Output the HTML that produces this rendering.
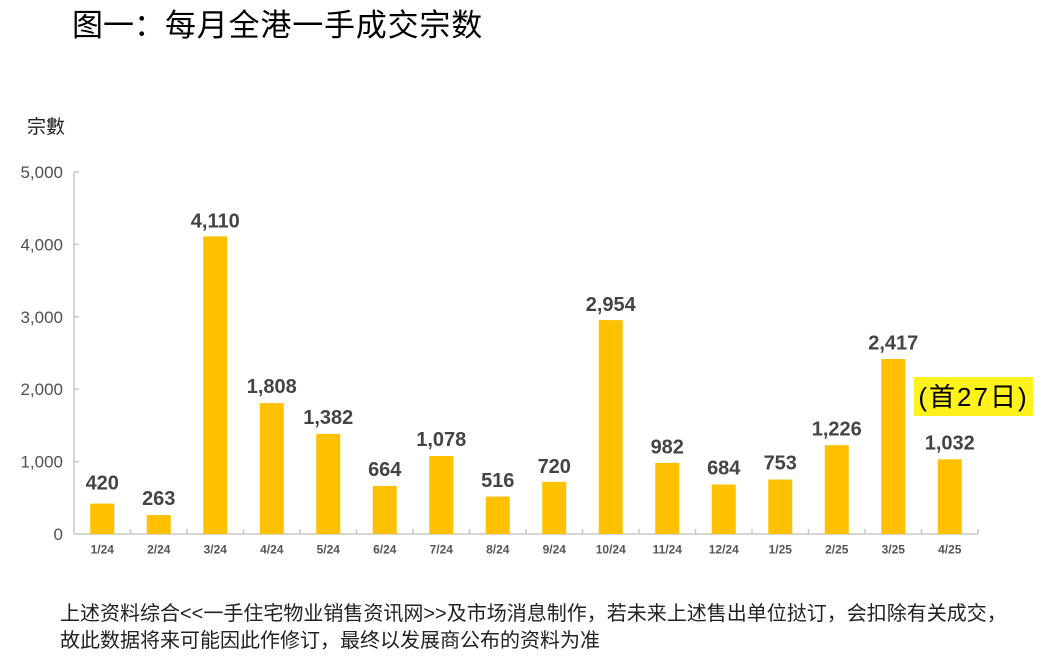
<!DOCTYPE html>
<html>
<head>
<meta charset="utf-8">
<style>
  html,body{margin:0;padding:0;background:#fff;}
  body{width:1051px;height:661px;overflow:hidden;}
  svg{display:block;}
  .cjk{font-family:"Liberation Sans","Noto Sans CJK SC",sans-serif;}
  .num{font-family:"Liberation Sans",sans-serif;}
</style>
</head>
<body>
<svg width="1051" height="661" viewBox="0 0 1051 661" xmlns="http://www.w3.org/2000/svg">
  <rect width="1051" height="661" fill="#fff"/>
  <!-- Title -->
  <text x="72" y="36" class="cjk" font-size="31" fill="#000">图一：</text>
  <text x="165" y="36" class="cjk" font-size="31" fill="#000" letter-spacing="0.8">每月全港一手成交宗数</text>
  <!-- Y unit -->
  <text x="27" y="133" class="cjk" font-size="19" fill="#222">宗數</text>

  <!-- Axes -->
  <line x1="74" y1="172" x2="74" y2="534" stroke="#c8c8c8" stroke-width="1.5"/>
  <line x1="74" y1="534" x2="978" y2="534" stroke="#c8c8c8" stroke-width="1.5"/>
  <g stroke="#c8c8c8" stroke-width="1.5">
    <line x1="74" y1="172" x2="79" y2="172"/>
    <line x1="74" y1="244.4" x2="79" y2="244.4"/>
    <line x1="74" y1="316.8" x2="79" y2="316.8"/>
    <line x1="74" y1="389.2" x2="79" y2="389.2"/>
    <line x1="74" y1="461.6" x2="79" y2="461.6"/>
    <line x1="130.5" y1="529" x2="130.5" y2="534"/>
    <line x1="187" y1="529" x2="187" y2="534"/>
    <line x1="243.5" y1="529" x2="243.5" y2="534"/>
    <line x1="300" y1="529" x2="300" y2="534"/>
    <line x1="356.5" y1="529" x2="356.5" y2="534"/>
    <line x1="413" y1="529" x2="413" y2="534"/>
    <line x1="469.5" y1="529" x2="469.5" y2="534"/>
    <line x1="526" y1="529" x2="526" y2="534"/>
    <line x1="582.5" y1="529" x2="582.5" y2="534"/>
    <line x1="639" y1="529" x2="639" y2="534"/>
    <line x1="695.5" y1="529" x2="695.5" y2="534"/>
    <line x1="752" y1="529" x2="752" y2="534"/>
    <line x1="808.5" y1="529" x2="808.5" y2="534"/>
    <line x1="865" y1="529" x2="865" y2="534"/>
    <line x1="921.5" y1="529" x2="921.5" y2="534"/>
    <line x1="978" y1="529" x2="978" y2="534"/>
  </g>

  <!-- Y labels -->
  <g class="num" font-size="17" fill="#505050" text-anchor="end">
    <text x="63" y="178">5,000</text>
    <text x="63" y="250.4">4,000</text>
    <text x="63" y="322.8">3,000</text>
    <text x="63" y="395.2">2,000</text>
    <text x="63" y="467.6">1,000</text>
    <text x="63" y="540">0</text>
  </g>

  <!-- Bars -->
  <g fill="#FFC000">
    <rect x="90.25" y="503.6" width="24" height="30.4"/>
    <rect x="146.75" y="515.0" width="24" height="19.0"/>
    <rect x="203.25" y="236.4" width="24" height="297.6"/>
    <rect x="259.75" y="403.1" width="24" height="130.9"/>
    <rect x="316.25" y="433.9" width="24" height="100.1"/>
    <rect x="372.75" y="485.9" width="24" height="48.1"/>
    <rect x="429.25" y="456.0" width="24" height="78.0"/>
    <rect x="485.75" y="496.6" width="24" height="37.4"/>
    <rect x="542.25" y="481.9" width="24" height="52.1"/>
    <rect x="598.75" y="320.1" width="24" height="213.9"/>
    <rect x="655.25" y="462.9" width="24" height="71.1"/>
    <rect x="711.75" y="484.5" width="24" height="49.5"/>
    <rect x="768.25" y="479.5" width="24" height="54.5"/>
    <rect x="824.75" y="445.2" width="24" height="88.8"/>
    <rect x="881.25" y="359.0" width="24" height="175.0"/>
    <rect x="937.75" y="459.3" width="24" height="74.7"/>
  </g>

  <!-- Value labels -->
  <g class="num" font-size="20" font-weight="bold" fill="#444" text-anchor="middle">
    <text x="102.25" y="489.5">420</text>
    <text x="158.75" y="505">263</text>
    <text x="215.25" y="227.5">4,110</text>
    <text x="271.75" y="393">1,808</text>
    <text x="328.25" y="424">1,382</text>
    <text x="384.75" y="476">664</text>
    <text x="441.25" y="446">1,078</text>
    <text x="497.75" y="487">516</text>
    <text x="554.25" y="473">720</text>
    <text x="610.75" y="311">2,954</text>
    <text x="667.25" y="453.5">982</text>
    <text x="723.75" y="474.5">684</text>
    <text x="780.25" y="469.5">753</text>
    <text x="836.75" y="435.5">1,226</text>
    <text x="893.25" y="349.5">2,417</text>
    <text x="949.75" y="449.5">1,032</text>
  </g>

  <!-- X labels -->
  <g class="num" font-size="12" font-weight="bold" fill="#555" text-anchor="middle">
    <text x="102.25" y="553.5">1/24</text>
    <text x="158.75" y="553.5">2/24</text>
    <text x="215.25" y="553.5">3/24</text>
    <text x="271.75" y="553.5">4/24</text>
    <text x="328.25" y="553.5">5/24</text>
    <text x="384.75" y="553.5">6/24</text>
    <text x="441.25" y="553.5">7/24</text>
    <text x="497.75" y="553.5">8/24</text>
    <text x="554.25" y="553.5">9/24</text>
    <text x="610.75" y="553.5">10/24</text>
    <text x="667.25" y="553.5">11/24</text>
    <text x="723.75" y="553.5">12/24</text>
    <text x="780.25" y="553.5">1/25</text>
    <text x="836.75" y="553.5">2/25</text>
    <text x="893.25" y="553.5">3/25</text>
    <text x="949.75" y="553.5">4/25</text>
  </g>

  <!-- Highlight note -->
  <rect x="914" y="377" width="119" height="39" fill="#FFF21C"/>
  <text x="973.5" y="406" class="cjk" font-size="26" fill="#000" text-anchor="middle" letter-spacing="2">(首27日)</text>

  <!-- Footnote -->
  <g class="cjk" font-size="20" fill="#222">
    <text x="60" y="620">上述资料综合&lt;&lt;一手住宅物业销售资讯网&gt;&gt;及市场消息制作，若未来上述售出单位挞订，会扣除有关成交，</text>
    <text x="60" y="647">故此数据将来可能因此作修订，最终以发展商公布的资料为准</text>
  </g>
</svg>
</body>
</html>
